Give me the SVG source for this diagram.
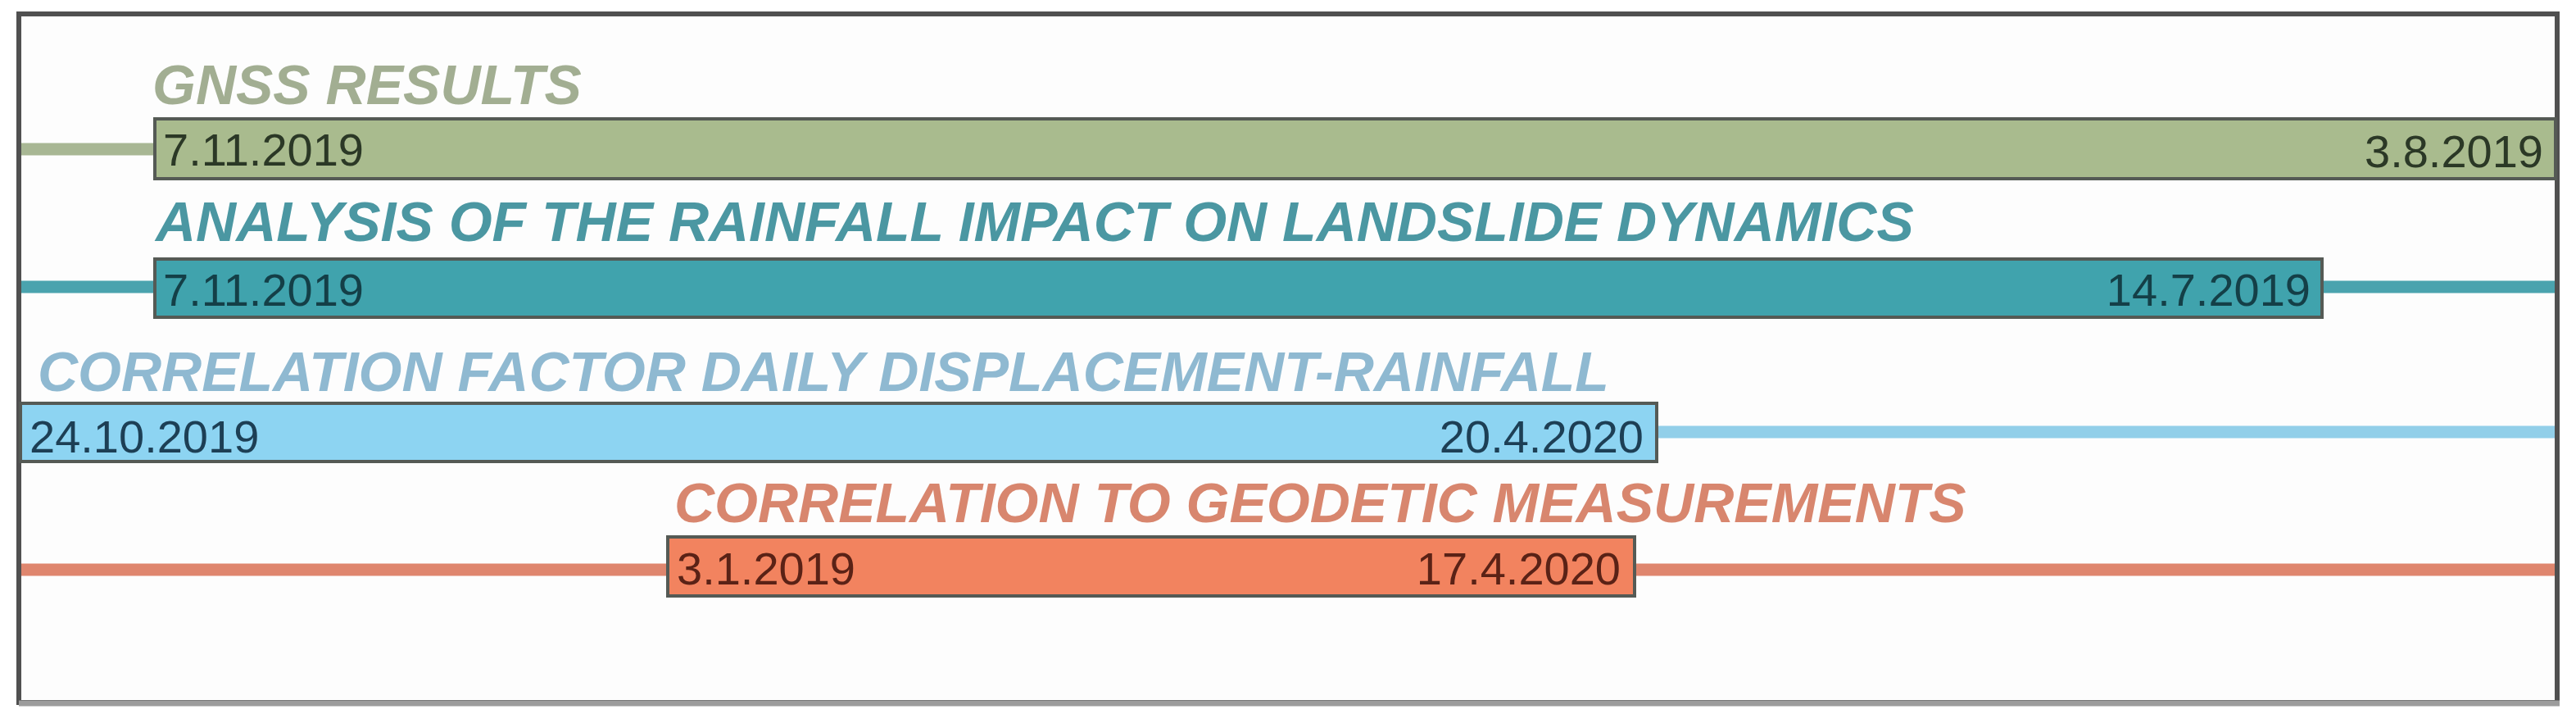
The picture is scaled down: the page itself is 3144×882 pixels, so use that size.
<svg xmlns="http://www.w3.org/2000/svg" width="3144" height="882" viewBox="0 0 3144 882">
<style>
.title{font-family:"Liberation Sans",Arial,sans-serif;font-weight:bold;font-style:italic;font-size:68px}
.date{font-family:"Liberation Sans",Arial,sans-serif;font-size:56px}
.bar{stroke:#555a55;stroke-width:4}
.ln{stroke-width:15;fill:none}
</style>
<rect x="0" y="0" width="3144" height="882" fill="#ffffff"/>
<g id="frame">
<rect x="23" y="17" width="3098" height="840" fill="#fdfdfd" stroke="#505050" stroke-width="6"/>
<line x1="23" y1="858" x2="3124" y2="858" stroke="#9c9c9c" stroke-width="7"/>
</g>
<g id="connectors">
<line class="ln" x1="26" y1="182" x2="189" y2="182" stroke="#a8b794"/>
<line class="ln" x1="26" y1="350" x2="3118" y2="350" stroke="#4aa3ae"/>
<line class="ln" x1="2022" y1="527" x2="3118" y2="527" stroke="#92cfe9"/>
<line class="ln" x1="26" y1="695" x2="3118" y2="695" stroke="#df866e"/>
</g>
<g id="gnss">
<text class="title" x="186" y="127" fill="#a2ae92">GNSS RESULTS</text>
<rect class="bar" x="189" y="145" width="2930" height="73" fill="#a9bb8e"/>
<text class="date" x="199" y="202" fill="#2b3826">7.11.2019</text>
<text class="date" x="3104" y="204" text-anchor="end" fill="#2b3826">3.8.2019</text>
</g>
<g id="analysis">
<text class="title" x="190" y="294" fill="#4b97a2">ANALYSIS OF THE RAINFALL IMPACT ON LANDSLIDE DYNAMICS</text>
<rect class="bar" x="189" y="316" width="2645" height="71" fill="#40a3ad" stroke="#3f5a5e"/>
<text class="date" x="199" y="373" fill="#143f47">7.11.2019</text>
<text class="date" x="2820" y="373" text-anchor="end" fill="#143f47">14.7.2019</text>
</g>
<g id="correlation-factor">
<text class="title" x="46" y="477" fill="#8fb9d1">CORRELATION FACTOR DAILY DISPLACEMENT-RAINFALL</text>
<rect class="bar" x="25" y="492" width="1997" height="71" fill="#8dd4f2" stroke="#44606e"/>
<text class="date" x="36" y="552" fill="#1d3f55">24.10.2019</text>
<text class="date" x="2006" y="552" text-anchor="end" fill="#1d3f55">20.4.2020</text>
</g>
<g id="geodetic">
<text class="title" x="823" y="637" fill="#d8866e">CORRELATION TO GEODETIC MEASUREMENTS</text>
<rect class="bar" x="815" y="655" width="1180" height="72" fill="#f2835f" stroke="#6e4a40"/>
<text class="date" x="826" y="713" fill="#5a2216">3.1.2019</text>
<text class="date" x="1978" y="713" text-anchor="end" fill="#5a2216">17.4.2020</text>
</g>
</svg>
